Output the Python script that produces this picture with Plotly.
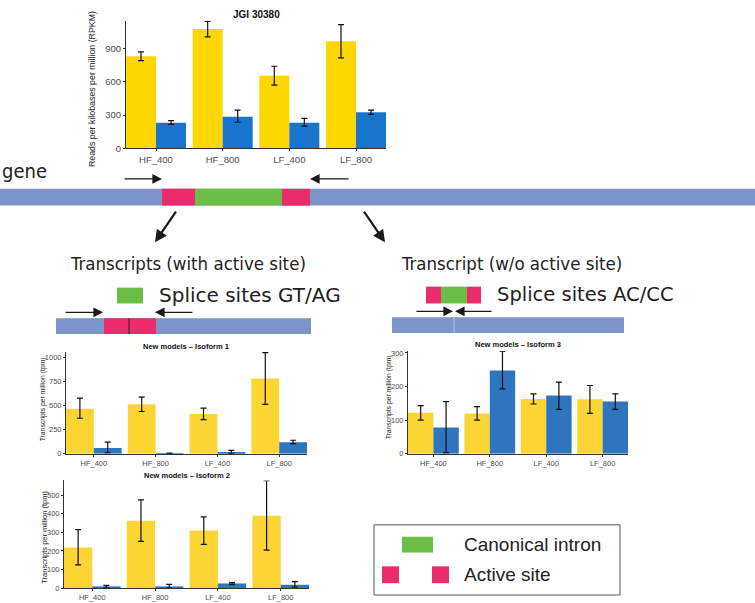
import plotly.graph_objects as go

W, H = 755, 603


def px(x):
    return x / W


def py(y):
    return 1 - y / H


categories = ["HF_400", "HF_800", "LF_400", "LF_800"]

# JGI 30380 (RPKM)
jgi_yellow = [830, 1075, 655, 965]
jgi_yellow_lo = [790, 1005, 570, 815]
jgi_yellow_hi = [870, 1145, 740, 1115]
jgi_blue = [230, 285, 230, 325]
jgi_blue_lo = [215, 235, 200, 305]
jgi_blue_hi = [250, 345, 270, 345]
jgi_ticks = [0, 300, 600, 900]

# New models - Isoform 1 (tpm)
iso1_yellow = [470, 515, 415, 785]
iso1_yellow_lo = [370, 440, 355, 515]
iso1_yellow_hi = [580, 590, 475, 1055]
iso1_blue = [60, 2, 12, 120]
iso1_blue_lo = [10, 0, 0, 105]
iso1_blue_hi = [120, 5, 35, 140]
iso1_ticks = [0, 250, 500, 750, 1000]

# New models - Isoform 2 (tpm)
iso2_yellow = [218, 362, 310, 390]
iso2_yellow_lo = [125, 252, 235, 205]
iso2_yellow_hi = [315, 475, 383, 578]
iso2_blue = [8, 7, 25, 18]
iso2_blue_lo = [2, 0, 20, 5]
iso2_blue_hi = [15, 20, 30, 35]
iso2_ticks = [0, 100, 200, 300, 400, 500]

# New models - Isoform 3 (tpm)
iso3_yellow = [122, 120, 163, 162]
iso3_yellow_lo = [100, 100, 148, 120]
iso3_yellow_hi = [143, 140, 178, 203]
iso3_blue = [78, 248, 173, 155]
iso3_blue_lo = [3, 193, 132, 132]
iso3_blue_hi = [155, 305, 213, 178]
iso3_ticks = [0, 100, 200, 300]

FONT = "Liberation Sans, Arial, sans-serif"
COND = "DejaVu Sans Condensed, Liberation Sans Narrow, DejaVu Sans, sans-serif"
DJV = "DejaVu Sans, sans-serif"

fig = go.Figure()


def add_pair(xa, ya, yv, ylo, yhi, bv, blo, bhi, ycol, bcol):
    for vals, lo, hi, col in ((yv, ylo, yhi, ycol), (bv, blo, bhi, bcol)):
        fig.add_trace(go.Bar(
            x=categories, y=vals, xaxis=xa, yaxis=ya,
            marker=dict(color=col, line=dict(width=0)),
            error_y=dict(type="data", symmetric=False,
                         array=[h - v for h, v in zip(hi, vals)],
                         arrayminus=[v - l for v, l in zip(vals, lo)],
                         color="#111", thickness=1.2, width=3),
            showlegend=False, hoverinfo="skip"))


add_pair("x", "y", jgi_yellow, jgi_yellow_lo, jgi_yellow_hi,
         jgi_blue, jgi_blue_lo, jgi_blue_hi, "#FFD700", "#1874CD")
add_pair("x2", "y2", iso1_yellow, iso1_yellow_lo, iso1_yellow_hi,
         iso1_blue, iso1_blue_lo, iso1_blue_hi, "#FCD535", "#2F74BF")
add_pair("x3", "y3", iso3_yellow, iso3_yellow_lo, iso3_yellow_hi,
         iso3_blue, iso3_blue_lo, iso3_blue_hi, "#FCD535", "#2F74BF")
add_pair("x4", "y4", iso2_yellow, iso2_yellow_lo, iso2_yellow_hi,
         iso2_blue, iso2_blue_lo, iso2_blue_hi, "#FCD535", "#2F74BF")


def xax(x0, x1, anchor, fs):
    return dict(domain=[px(x0), px(x1)], anchor=anchor, type="category",
                range=[-0.45, 3.45], showline=True, linecolor="#333",
                linewidth=1, ticks="outside", ticklen=2, tickcolor="#333",
                showgrid=False, zeroline=False,
                tickfont=dict(family=FONT, size=fs, color="#4d4d4d"))


def yax(top, bottom, anchor, rng, tv, fs):
    return dict(domain=[py(bottom), py(top)], anchor=anchor, range=rng,
                tickvals=tv, showline=True, linecolor="#333", linewidth=1,
                ticks="outside", ticklen=2, tickcolor="#333", showgrid=False,
                zeroline=False,
                tickfont=dict(family=FONT, size=fs, color="#4d4d4d"))


shapes = []


def rect(x0, y0, x1, y1, color, line=None):
    d = dict(type="rect", xref="paper", yref="paper", x0=px(x0), x1=px(x1),
             y0=py(y1), y1=py(y0), fillcolor=color, layer="above")
    d["line"] = line if line else dict(width=0)
    shapes.append(d)


GENE = "#7B95CA"
PINK = "#EC2B6C"
GREEN = "#6CBD45"

# gene
rect(0, 189, 755, 206, GENE)
rect(162, 189, 195, 206, PINK)
rect(195, 189, 282, 206, GREEN)
rect(282, 189, 310, 206, PINK)

# left transcript
rect(117, 289, 143, 305, GREEN)
rect(56, 320, 311, 336, GENE)
rect(104, 320, 156, 336, PINK)
shapes.append(dict(type="line", xref="paper", yref="paper", x0=px(129), x1=px(129),
                   y0=py(320), y1=py(336), line=dict(color="#222", width=1), layer="above"))

# right transcript
rect(426, 288, 441, 305, PINK)
rect(441, 288, 467, 305, GREEN)
rect(467, 288, 481, 305, PINK)
rect(392, 319, 624, 335, GENE)
shapes.append(dict(type="line", xref="paper", yref="paper", x0=px(454), x1=px(454),
                   y0=py(319), y1=py(335), line=dict(color="#B4C3E3", width=1), layer="above"))

# legend box
rect(374, 529, 620, 600, "white", line=dict(color="#555", width=1))
rect(402, 541, 433, 557, GREEN)
rect(382, 571, 399, 588, PINK)
rect(432, 571, 449, 588, PINK)

ann = []


def text(x, y, s, size, family, xanchor="left", yanchor="middle", color="#222",
         angle=0, bold=False):
    ann.append(dict(x=px(x), y=py(y), xref="paper", yref="paper",
                    text=("<b>%s</b>" % s) if bold else s, showarrow=False,
                    xanchor=xanchor, yanchor=yanchor, textangle=angle,
                    font=dict(family=family, size=size, color=color)))


def arrow(tx, ty, sx, sy, width, size):
    ann.append(dict(x=px(tx), y=py(ty), xref="paper", yref="paper", text="",
                    showarrow=True, axref="pixel", ayref="pixel",
                    ax=sx - tx, ay=sy - ty, arrowhead=2, arrowsize=size,
                    arrowwidth=width, arrowcolor="#1a1a1a", standoff=0))


# chart titles
text(256, 13, "JGI 30380", 10, FONT, xanchor="center", bold=True, color="#111")
text(186, 349, "New models – Isoform 1", 7.5, FONT, xanchor="center", bold=True, color="#111")
text(518, 347, "New models – Isoform 3", 7.5, FONT, xanchor="center", bold=True, color="#111")
text(187, 479, "New models – Isoform 2", 7.5, FONT, xanchor="center", bold=True, color="#111")

# axis titles
ann.append(dict(x=px(92), y=py(169), xref="paper", yref="paper",
                text="Reads per kilobases per million (RPKM)", showarrow=False,
                xanchor="center", yanchor="bottom", textangle=-90,
                font=dict(family=FONT, size=8.8, color="#222")))
text(43, 402, "Transcripts per million (tpm)", 6.8, FONT, xanchor="center", angle=-90)
text(45, 542, "Transcripts per million (tpm)", 7.5, FONT, xanchor="center", angle=-90)
text(389, 400, "Transcripts per million (tpm)", 6.8, FONT, xanchor="center", angle=-90)

# diagram texts
text(0, 171, "gene", 20, COND)
text(68, 265, "Transcripts (with active site)", 18.5, COND)
text(157, 296, "Splice sites GT/AG", 20, DJV)
text(399, 265, "Transcript (w/o active site)", 18.5, COND)
text(495, 296, "Splice sites AC/CC", 19.5, DJV)
text(462, 549, "Canonical intron", 19, FONT)
text(462, 579, "Active site", 19, FONT)

# arrows
arrow(162, 179, 123, 179, 1.2, 1.6)
arrow(310, 179, 350, 179, 1.2, 1.6)
arrow(155, 243, 177, 211, 2.2, 1.1)
arrow(385, 243, 363, 211, 2.2, 1.1)
arrow(103, 314, 64, 314, 1.2, 1.6)
arrow(155, 314, 194, 314, 1.2, 1.6)
arrow(453, 313, 415, 313, 1.2, 1.6)
arrow(455, 313, 493, 313, 1.2, 1.6)

fig.update_layout(
    width=W, height=H, margin=dict(l=0, r=0, t=0, b=0),
    paper_bgcolor="white", plot_bgcolor="white",
    barmode="group", bargap=0.1, bargroupgap=0,
    xaxis=xax(126, 386, "y", 9.5),
    yaxis=yax(19, 148, "x", [0, 1150], jgi_ticks, 9.5),
    xaxis2=xax(66, 307, "y2", 7.5),
    yaxis2=yax(354, 457, "x2", [0, 1062], iso1_ticks, 7.5),
    xaxis3=xax(408, 628, "y3", 7.5),
    yaxis3=yax(353, 457, "x3", [0, 306], iso3_ticks, 7.5),
    xaxis4=xax(64, 309, "y4", 7.5),
    yaxis4=yax(484, 593, "x4", [0, 580], iso2_ticks, 7.5),
    shapes=shapes, annotations=ann,
)

fig.write_html(
    "out.html",
    config={"displayModeBar": False},
    post_script="document.body.style.margin='0';document.body.style.overflow='hidden';",
)
